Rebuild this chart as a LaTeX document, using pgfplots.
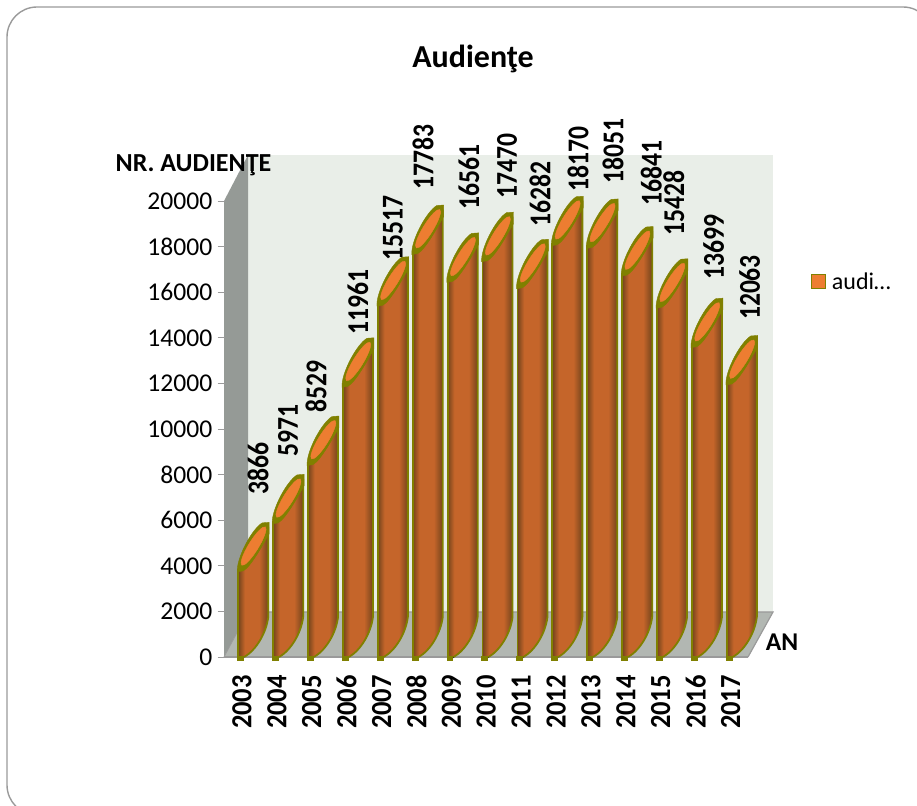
\documentclass[border=0pt]{standalone}
\usepackage{pgfplots}
\usepackage{graphicx}
\usepackage{fontspec}
\pgfplotsset{compat=1.18}
\setmainfont{Carlito}
\definecolor{wallback}{HTML}{E9EEE8}
\definecolor{wallleft}{HTML}{959A96}
\definecolor{floorc}{HTML}{B2B7B2}
\definecolor{rim}{HTML}{808000}
\definecolor{capc}{HTML}{ED7D31}
\definecolor{bardark}{HTML}{74441C}
\definecolor{barmid}{HTML}{C5652A}
\definecolor{tickc}{HTML}{9A9A9A}
\newcommand{\tl}[1]{\scalebox{1}[1.1]{#1}}
\pgfdeclarehorizontalshading{cylbar}{100bp}{color(0bp)=(bardark); color(25bp)=(bardark); color(36bp)=(barmid); color(60bp)=(barmid); color(75bp)=(bardark); color(100bp)=(bardark)}
\pgfdeclareplotmark{cyl}{%
  % origin: data point at the category centre; the bar runs from -3.7 to 26.3
  \edef\hh{\the\dimexpr 1pt*\numexpr\val*228\relax/10000\relax}%
  \shade[shading=cylbar] (-3.7pt,1pt) -- (26.3pt,45pt) -- (26.3pt,-\hh+40pt)
     .. controls (24.3pt,-\hh+24pt) and (14.3pt,-\hh+7pt) .. (2.3pt,-\hh) -- (0.3pt,-\hh-3pt) -- (-3.7pt,-\hh-3pt) -- cycle;
  \draw[rim,line width=1.8pt,line join=round] (-3.7pt,0pt) -- (-3.7pt,-\hh-2pt);
  \draw[rim,line width=1.8pt] (26.3pt,42pt) -- (26.3pt,-\hh+40pt)
     .. controls (24.3pt,-\hh+24pt) and (14.3pt,-\hh+7pt) .. (2.3pt,-\hh);
  \fill[rim] (-4.6pt,-\hh-3pt) rectangle (1.3pt,-\hh+1pt);
  \fill[rim] (-4.6pt,0pt) .. controls (-3.7pt,14pt) and (10.3pt,40pt) .. (20.3pt,46pt)
     -- (27.2pt,46.5pt) -- (27.2pt,35pt) .. controls (22pt,26pt) and (9pt,2pt) .. (1.3pt,-2pt) -- (-4.6pt,-3pt) -- cycle;
  \fill[capc] (11.6pt,22.8pt) ellipse[x radius=22.5pt,y radius=5pt,rotate=58.4];
}
\begin{document}
\begin{tikzpicture}
\useasboundingbox (0pt,0pt) rectangle (917pt,805pt);
\begin{scope}
  \clip (0pt,0pt) rectangle (917pt,805pt);
  \draw[color=tickc,line width=1.4pt,rounded corners=30pt] (7pt,798pt) -- (933pt,798pt) -- (933pt,-10pt) -- (7pt,-10pt) -- cycle;
\end{scope}
% 3-D box of the chart
\fill[wallback] (248pt,650pt) rectangle (773pt,193pt);
\fill[wallleft] (224pt,148pt) -- (224pt,604pt) -- (248pt,650pt) -- (248pt,193pt) -- cycle;
\fill[floorc] (224pt,148pt) -- (748pt,148pt) -- (773pt,193pt) -- (248pt,193pt) -- cycle;
\draw[color=tickc,line width=1.2pt] (248pt,193pt) -- (773pt,193pt) -- (748pt,148pt);
\draw[color=tickc,line width=2.2pt] (224pt,148pt) -- (748pt,148pt);
\draw[color=tickc,line width=0.8pt] (224pt,148pt) -- (248pt,193pt);
\begin{axis}[
  at={(224.5pt,148pt)}, anchor=south west,
  scale only axis, width=523.5pt, height=456pt,
  xmin=0, xmax=15, ymin=0, ymax=20000,
  clip=false,
  axis line style={draw=none},
  axis x line*=bottom, axis y line*=left,
  scaled y ticks=false,
  ytick={0,2000,4000,6000,8000,10000,12000,14000,16000,18000,20000},
  xtick={0.5,1.5,2.5,3.5,4.5,5.5,6.5,7.5,8.5,9.5,10.5,11.5,12.5,13.5,14.5},
  xticklabels={\tl{2003},\tl{2004},\tl{2005},\tl{2006},\tl{2007},\tl{2008},\tl{2009},\tl{2010},\tl{2011},\tl{2012},\tl{2013},\tl{2014},\tl{2015},\tl{2016},\tl{2017}},
  extra x ticks={0,1,2,3,4,5,6,7,8,9,10,11,12,13,14,15},
  extra x tick labels={},
  extra x tick style={major tick length=7pt, tick style={color=tickc,line width=0.8pt}},
  /pgf/number format/assume math mode=true,
  /pgf/number format/1000 sep={},
  tick align=outside,
  major tick length=7pt,
  ytick style={color=tickc,line width=0.8pt},
  xtick style={draw=none},
  y tick label style={font=\fontsize{25.6}{28}\selectfont, xshift=-3pt, inner sep=2pt},
  x tick label style={font=\fontsize{26.5}{28}\selectfont\bfseries, rotate=90, anchor=east, xshift=-11pt, inner sep=0pt},
  title={Audienţe},
  title style={font=\fontsize{32}{36}\selectfont\bfseries, at={(rel axis cs:0.4747,1.2985)}, anchor=center},
  xlabel={AN},
  every axis x label/.style={at={(rel axis cs:1.0,0)}, anchor=center, xshift=34pt, yshift=15pt, font=\fontsize{25.6}{28}\selectfont\bfseries},
  ylabel={NR. AUDIENŢE},
  every axis y label/.style={at={(rel axis cs:0,1)}, anchor=center, xshift=-31pt, yshift=36pt, font=\fontsize{26}{28}\selectfont\bfseries},
  legend style={at={(rel axis cs:1.1203,0.8235)}, anchor=west, draw=none, fill=none, inner sep=0pt, outer sep=0pt, font=\fontsize{24}{28}\selectfont, legend cell align=left},
]
\addplot[
  only marks, mark=cyl,
  visualization depends on={value \thisrow{v} \as \val},
  visualization depends on={value \thisrow{dx} \as \dxx},
  visualization depends on={value \thisrow{dy} \as \dyy},
  point meta=explicit symbolic,
  nodes near coords={\scalebox{1}[1.18]{\pgfplotspointmeta}},
  every node near coord/.style={rotate=90, anchor=west, inner sep=0pt, outer sep=0pt, xshift=\dyy pt, yshift=-\dxx pt, font=\fontsize{25.6}{28}\selectfont\bfseries, text=black},
  legend image code/.code={\draw[draw=rim,fill=capc,line width=1pt] (0pt,-7pt) rectangle (14pt,7pt);},
] table[x=x,y=v,meta=v] {
x v dx dy
0.5 3866 16 74
1.5 5971 11.1 64
2.5 8529 4.2 50.5
3.5 11961 11.3 50
4.5 15517 11.4 43
5.5 17783 6.5 62.5
6.5 16561 17.6 70
7.5 17470 20.7 60
8.5 16282 18.8 59
9.5 18170 21.9 51
10.5 18051 22 62
11.5 16841 25.5 68
12.5 15428 13 70
13.5 13699 18 65
14.5 12063 19 62
};
\addlegendentry{\hspace{4pt}audi…}
\end{axis}
\end{tikzpicture}
\end{document}
